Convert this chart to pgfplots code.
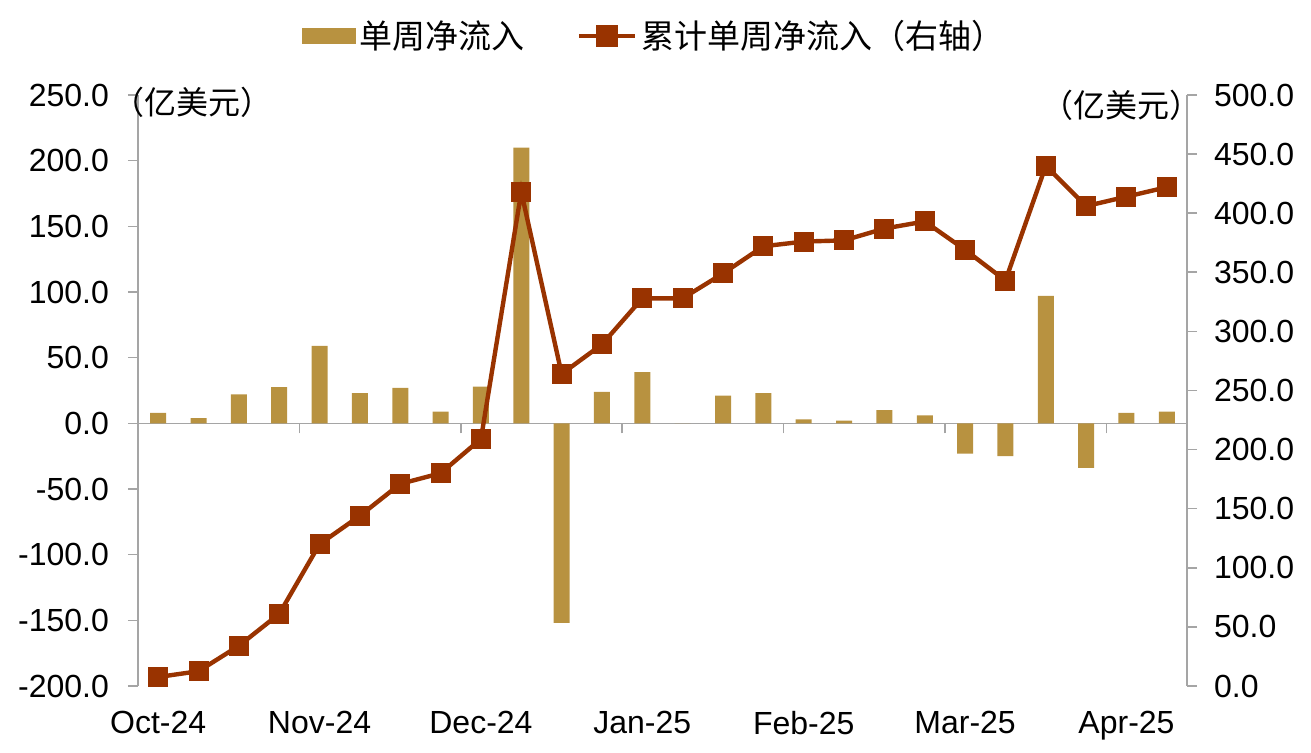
\documentclass[border=0pt]{standalone}
\usepackage{pgfplots}
\pgfplotsset{compat=1.18}
\usepackage{fontspec}
\setmainfont{Liberation Sans}
\newfontfamily\cjk{Noto Sans CJK SC}
\definecolor{barc}{RGB}{184,146,64}
\definecolor{linec}{RGB}{153,51,0}
\definecolor{axgray}{RGB}{165,165,165}
\begin{document}
\begin{tikzpicture}
\useasboundingbox (0,0) rectangle (655.5pt,376.5pt);
\begin{axis}[
  at={(69pt,33.5pt)}, anchor=south west, scale only axis,
  width=524.5pt, height=295.5pt,
  xmin=-0.5, xmax=25.5, ymin=-200, ymax=250,
  axis x line*=middle, axis y line*=left,
  hide obscured y ticks=false, hide obscured x ticks=false,
  xtick={3.5,7.5,...,23.5}, xticklabels={},
  ytick={-200,-150,...,250},
  tick align=outside, major tick length=5pt,
  axis line style={draw=axgray, line width=0.8pt},
  tick style={draw=axgray, line width=0.8pt},
  yticklabel style={font=\fontsize{16}{19}\selectfont, text=black, xshift=-6pt},
  /pgf/number format/.cd, fixed, fixed zerofill, precision=1, assume math mode=true,
  /pgfplots/.cd,
  ybar, bar width=8pt,
  clip=false,
]
\addplot[fill=barc, draw=none] coordinates {
(0,8) (1,4) (2,22) (3,27.5) (4,59) (5,23) (6,27) (7,9) (8,28) (9,210)
(10,-152) (11,24) (12,39) (13,0) (14,21) (15,23) (16,3) (17,2) (18,10) (19,6)
(20,-23) (21,-25) (22,97) (23,-34) (24,8) (25,9)};
\node[font=\cjk\fontsize{16}{19}\selectfont, anchor=center] at (rel axis cs:0.052,0.988) {（亿美元）};
\node[font=\cjk\fontsize{16}{19}\selectfont, anchor=center] at (rel axis cs:0.938,0.982) {（亿美元）};
\end{axis}
\begin{axis}[
  at={(69pt,33.5pt)}, anchor=south west, scale only axis,
  width=524.5pt, height=295.5pt,
  xmin=-0.5, xmax=25.5, ymin=0, ymax=500,
  axis x line*=bottom, axis y line*=right,
  y axis line style={draw=axgray, line width=0.8pt},
  x axis line style={draw=none},
  xtick={0,4,...,24},
  xticklabels={Oct-24,Nov-24,Dec-24,Jan-25,Feb-25,Mar-25,Apr-25},
  xtick style={draw=none},
  xticklabel style={font=\fontsize{16}{19}\selectfont, text=black, yshift=-4pt},
  ytick={0,50,...,500},
  tick align=outside, major tick length=5pt,
  ytick style={draw=axgray, line width=0.8pt},
  yticklabel style={font=\fontsize{16}{19}\selectfont, text=black, xshift=5pt},
  /pgf/number format/.cd, fixed, fixed zerofill, precision=1, assume math mode=true,
  /pgfplots/.cd,
  legend columns=2,
  legend style={draw=none, fill=none, at={(0.4929,1.1)}, anchor=center,
    font=\cjk\fontsize{16.5}{19}\selectfont,
    /tikz/every even column/.append style={column sep=24pt}},
  clip=false,
]
\addlegendimage{legend image code/.code={\fill[barc] (0pt,-3.75pt) rectangle (26.5pt,3.75pt);}}
\addlegendentry{单周净流入}
\addplot[color=linec, line width=2.2pt, mark=square*, mark size=4.75pt,
  mark options={fill=linec, draw=linec, line width=0pt},
  legend image code/.code={\draw[linec,line width=2.2pt] (0pt,0pt)--(28pt,0pt);
    \fill[linec] (9.5pt,-4.5pt) rectangle (18.5pt,4.5pt);}]
coordinates {
(0,7.6) (1,12.5) (2,34) (3,61) (4,120) (5,144) (6,171) (7,180) (8,209) (9,418)
(10,264) (11,289) (12,328) (13,328) (14,349) (15,372) (16,376) (17,377) (18,387) (19,393)
(20,369) (21,343) (22,440) (23,406) (24,414) (25,422)};
\addlegendentry{累计单周净流入（右轴）}
\end{axis}
\end{tikzpicture}
\end{document}
